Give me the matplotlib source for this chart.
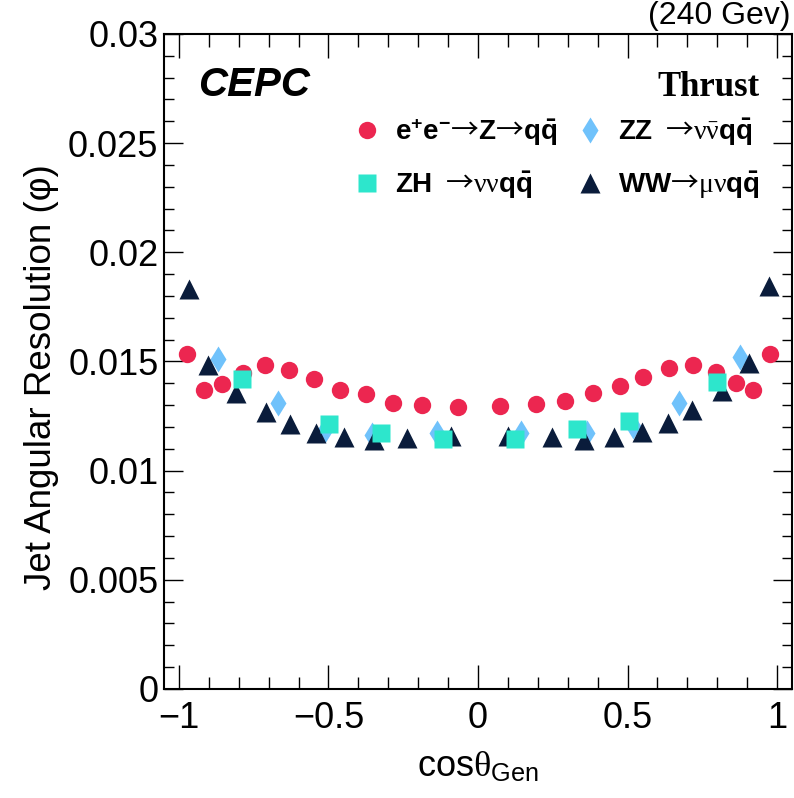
import matplotlib
matplotlib.use("Agg")
import matplotlib.pyplot as plt
from matplotlib.ticker import MultipleLocator, FuncFormatter

plt.rcParams['font.family'] = ['Liberation Sans', 'DejaVu Sans']
plt.rcParams['mathtext.fontset'] = 'custom'
plt.rcParams['mathtext.rm'] = 'Liberation Serif'
plt.rcParams['mathtext.it'] = 'Liberation Serif:italic'
plt.rcParams['mathtext.bf'] = 'Liberation Sans:bold'
plt.rcParams['mathtext.sf'] = 'Liberation Sans'
plt.rcParams['mathtext.tt'] = 'Noto Sans CJK JP'   # thin long arrow, like the ROOT symbol font

# e+e- -> Z -> qq
z_x = [-0.973, -0.916, -0.856, -0.786, -0.712, -0.632, -0.548, -0.462, -0.375, -0.284, -0.187, -0.067,
       0.074, 0.194, 0.291, 0.385, 0.475, 0.552, 0.639, 0.719, 0.796, 0.863, 0.920, 0.977]
z_y = [0.01536, 0.01369, 0.01397, 0.01447, 0.01484, 0.01463, 0.01418, 0.01369, 0.01352, 0.01312, 0.01301, 0.01292,
       0.01296, 0.01304, 0.01321, 0.01356, 0.01387, 0.01429, 0.01471, 0.01483, 0.01450, 0.01400, 0.01369, 0.01536]

# ZZ -> vv qq
zz_x = [-0.870, -0.668, -0.512, -0.356, -0.138, 0.144, 0.364, 0.519, 0.673, 0.876]
zz_y = [0.01510, 0.01311, 0.01186, 0.01163, 0.01171, 0.01174, 0.01171, 0.01205, 0.01311, 0.01522]

# WW -> mu v qq
ww_x = [-0.966, -0.902, -0.809, -0.710, -0.629, -0.542, -0.448, -0.347, -0.238, -0.090,
        0.101, 0.246, 0.355, 0.455, 0.548, 0.635, 0.717, 0.817, 0.907, 0.972]
ww_y = [0.01832, 0.01484, 0.01357, 0.01270, 0.01214, 0.01171, 0.01156, 0.01142, 0.01148, 0.01159,
        0.01159, 0.01156, 0.01142, 0.01156, 0.01177, 0.01217, 0.01278, 0.01365, 0.01492, 0.01846]

# ZH -> vv qq
zh_x = [-0.790, -0.498, -0.324, -0.118, 0.124, 0.332, 0.506, 0.798]
zh_y = [0.01420, 0.01215, 0.01171, 0.01146, 0.01146, 0.01191, 0.01228, 0.01407]

fig = plt.figure(figsize=(7.94, 7.98), dpi=100)
ax = fig.add_axes([0.2065, 0.1366, 0.791, 0.8208])

h_z, = ax.plot(z_x, z_y, 'o', ms=12.5, color='#EC2650', mec='none', zorder=2,
               label=r'$\mathbf{e^{+}e^{-}}\mathtt{→}\mathbf{Z}\mathtt{→}\mathbf{q\bar{q}}$')
h_zz, = ax.plot(zz_x, zz_y, 'd', ms=13, color='#70C2FB', mec='none', zorder=3,
                label=r'$\mathbf{ZZ}\ \ \mathtt{→}\mathrm{\nu\bar{\nu}}\mathbf{q\bar{q}}$')
h_ww, = ax.plot(ww_x, ww_y, '^', ms=14, color='#0A1C3B', mec='none', zorder=4,
                label=r'$\mathbf{WW}\mathtt{→}\mathrm{\mu\nu}\mathbf{q\bar{q}}$')
h_zh, = ax.plot(zh_x, zh_y, 's', ms=12.5, color='#2DE6CC', mec='none', zorder=5,
                label=r'$\mathbf{ZH}\ \ \mathtt{→}\mathrm{\nu\nu}\mathbf{q\bar{q}}$')

ax.set_xlim(-1.05, 1.05)
ax.set_ylim(0, 0.03)

ax.xaxis.set_major_locator(MultipleLocator(0.5))
ax.xaxis.set_minor_locator(MultipleLocator(0.1))
ax.yaxis.set_major_locator(MultipleLocator(0.005))
ax.yaxis.set_minor_locator(MultipleLocator(0.001))
ax.yaxis.set_major_formatter(FuncFormatter(lambda v, p: '%g' % round(v, 4)))
ax.xaxis.set_major_formatter(FuncFormatter(lambda v, p: ('%g' % round(v, 2)).replace('-', '\u2212')))

ax.tick_params(which='both', direction='in', top=True, right=True, labelsize=26, width=1.0)
ax.tick_params(axis='x', which='major', length=17, pad=9)
ax.tick_params(axis='x', which='minor', length=9)
ax.tick_params(axis='y', which='major', length=14, pad=4)
ax.tick_params(axis='y', which='minor', length=7)
for s in ax.spines.values():
    s.set_linewidth(1.5)

ax.set_xlabel(r'cos$\mathrm{\theta}_{\mathsf{Gen}}$', fontsize=26, va='baseline')
ax.xaxis.set_label_coords(0.5, -0.134)
ax.set_ylabel('Jet Angular Resolution (\u03c6)', fontsize=26.5)
ax.yaxis.set_label_coords(-0.167, 0.476)

ax.text(0.054, 0.905, 'CEPC', transform=ax.transAxes, fontsize=29,
        fontweight='bold', fontstyle='italic')
ax.text(0.948, 0.905, 'Thrust', transform=ax.transAxes, fontsize=25,
        fontweight='bold', family='Liberation Serif', ha='right')
fig.text(0.995, 0.97, '(240 Gev)', fontsize=23, ha='right', va='baseline')

ax.legend(handles=[h_z, h_zh, h_zz, h_ww], ncol=2, frameon=False, fontsize=20,
          loc='upper left', bbox_to_anchor=(0.303, 0.875), borderpad=0, borderaxespad=0,
          handlelength=0.9, handletextpad=0.55, columnspacing=0.75, labelspacing=0.8)

fig.savefig('out.png', dpi=100)
